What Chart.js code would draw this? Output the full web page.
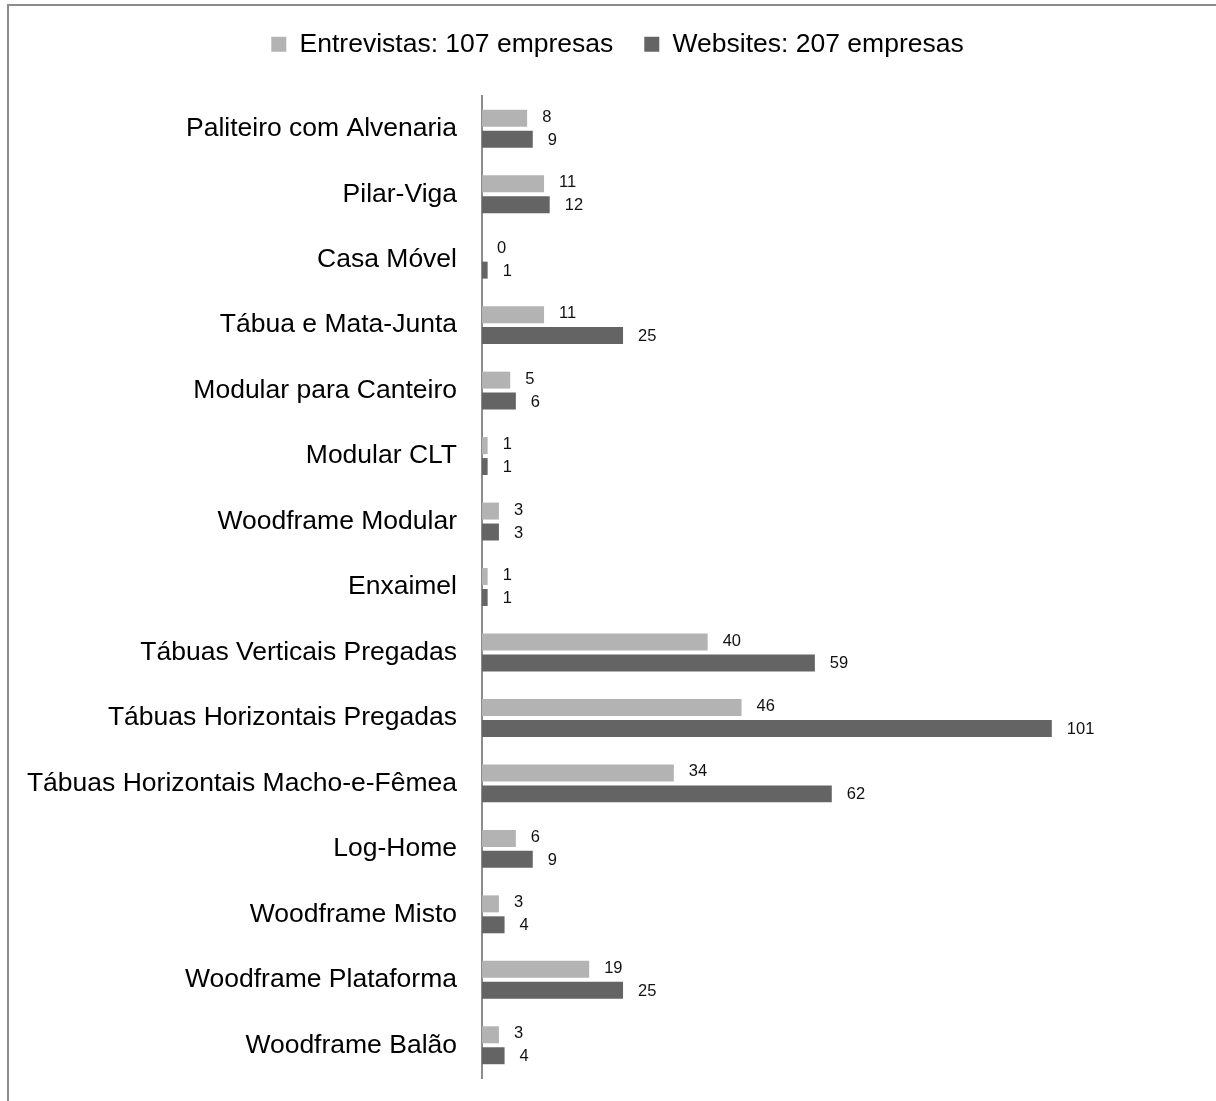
<!DOCTYPE html>
<html>
<head>
<meta charset="utf-8">
<script src="https://cdn.jsdelivr.net/npm/chart.js@4.4.1/dist/chart.umd.min.js"></script>
<style>
  html, body { margin: 0; padding: 0; background: #fff; overflow: hidden; }
  #frame {
    position: absolute; left: 7px; top: 4px; width: 1400px; height: 1300px;
    border-left: 2px solid #8c8c8c; border-top: 2px solid #8c8c8c;
  }
  #chart { position: absolute; left: 0; top: 0; }
</style>
</head>
<body>
<div id="frame"></div>
<canvas id="chart" width="1216" height="1101"></canvas>
<script>
// Categories and values
const categories = [
    "Paliteiro com Alvenaria",
    "Pilar-Viga",
    "Casa Móvel",
    "Tábua e Mata-Junta",
    "Modular para Canteiro",
    "Modular CLT",
    "Woodframe Modular",
    "Enxaimel",
    "Tábuas Verticais Pregadas",
    "Tábuas Horizontais Pregadas",
    "Tábuas Horizontais Macho-e-Fêmea",
    "Log-Home",
    "Woodframe Misto",
    "Woodframe Plataforma",
    "Woodframe Balão"
];
const entrevistas = [8, 11, 0, 11, 5, 1, 3, 1, 40, 46, 34, 6, 3, 19, 3];
const websites = [9, 12, 1, 25, 6, 1, 3, 1, 59, 101, 62, 9, 4, 25, 4];
const seriesNames = ["Entrevistas: 107 empresas", "Websites: 207 empresas"];

const FONT = "'Liberation Sans', Arial, sans-serif";

// Value labels to the right of each bar
const valueLabels = {
    id: 'valueLabels',
    afterDatasetsDraw(chart) {
        const ctx = chart.ctx;
        ctx.save();
        ctx.font = "16.5px " + FONT;
        ctx.fillStyle = "#111";
        ctx.textAlign = "left";
        ctx.textBaseline = "middle";
        chart.data.datasets.forEach((ds, i) => {
            chart.getDatasetMeta(i).data.forEach((bar, j) => {
                ctx.fillText(String(ds.data[j]), bar.x + 15, bar.y + (i === 0 ? -1 : 1));
            });
        });
        ctx.restore();
    }
};

// Legend block: fixed height, and centred a bit right of the canvas middle
const legendPlacement = {
    id: 'legendPlacement',
    beforeInit(chart) {
        const fit = chart.legend.fit;
        chart.legend.fit = function () {
            fit.bind(chart.legend)();
            this.height = 96;
        };
    },
    afterLayout(chart) {
        chart.legend.left = 76;
        chart.legend.adjustHitBoxes();
    }
};

new Chart(document.getElementById("chart").getContext("2d"), {
    type: 'bar',
    data: {
        labels: categories,
        datasets: [{
            label: seriesNames[0],
            data: entrevistas,
            backgroundColor: '#b3b3b3',
            borderWidth: 0,
            categoryPercentage: 0.64,
            barPercentage: 0.81
        }, {
            label: seriesNames[1],
            data: websites,
            backgroundColor: '#646464',
            borderWidth: 0,
            categoryPercentage: 0.64,
            barPercentage: 0.81
        }]
    },
    options: {
        indexAxis: 'y',
        responsive: false,
        animation: false,
        layout: { padding: { top: 0, right: 57, bottom: 23, left: 0 } },
        plugins: {
            legend: {
                position: 'top',
                labels: {
                    font: { size: 26.5, family: FONT },
                    color: '#000',
                    boxWidth: 15,
                    boxHeight: 15,
                    padding: 31
                }
            },
            tooltip: { enabled: false }
        },
        scales: {
            x: {
                display: false,
                min: 0,
                max: 120
            },
            y: {
                grid: { display: false, drawTicks: false },
                border: { display: true, color: '#8c8c8c', width: 2 },
                ticks: {
                    padding: 25,
                    color: '#000',
                    font: { size: 26.5, family: FONT }
                },
                afterFit(scale) {
                    scale.width = 482;
                    scale.paddingTop = 0;
                    scale.paddingBottom = 0;
                }
            }
        }
    },
    plugins: [valueLabels, legendPlacement]
});
</script>
</body>
</html>
